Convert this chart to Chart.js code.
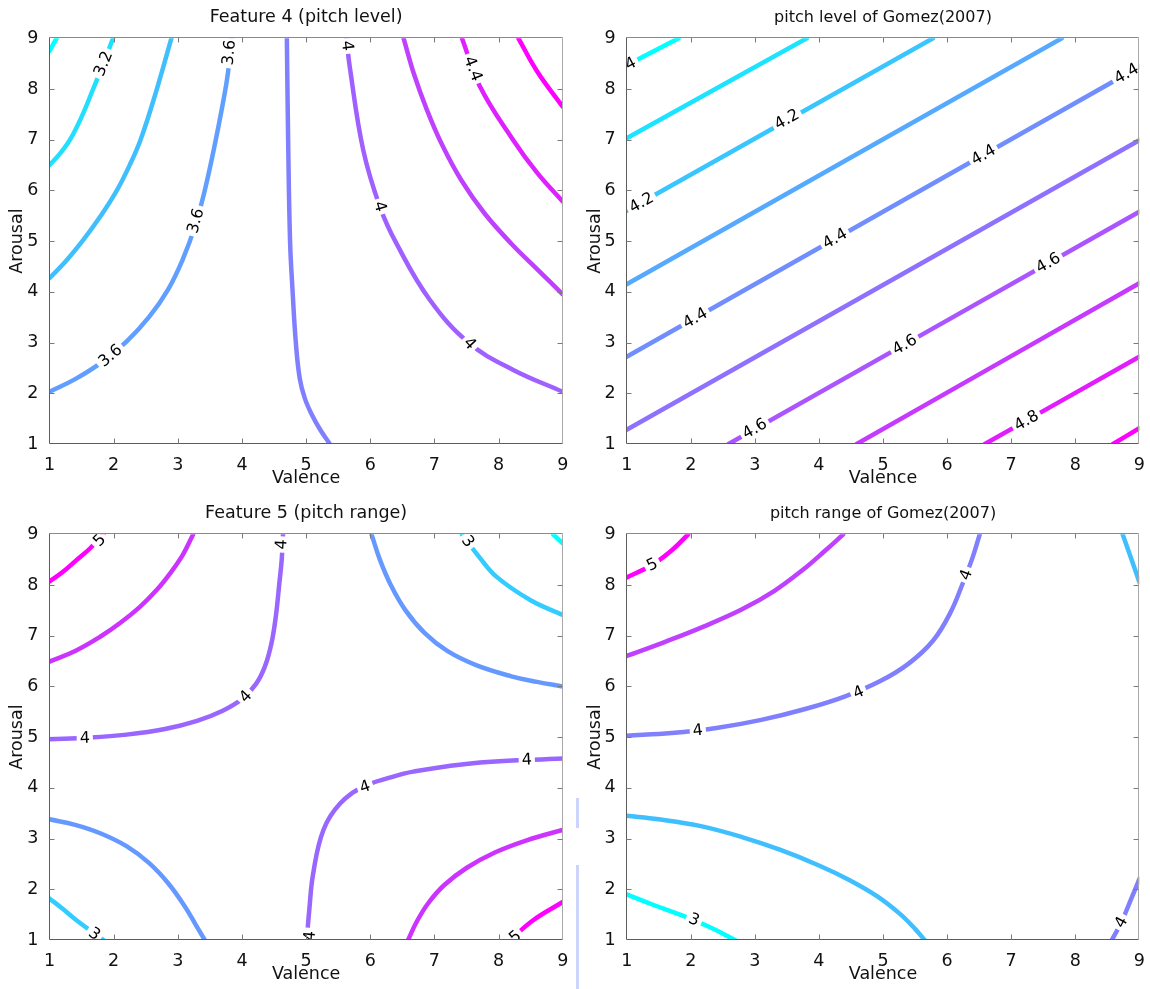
<!DOCTYPE html>
<html><head><meta charset="utf-8">
<script src="https://cdn.jsdelivr.net/npm/chart.js@4.4.1/dist/chart.umd.min.js"></script>
<style>
html,body{margin:0;padding:0;background:#fff;}
#wrap{position:relative;width:1150px;height:989px;overflow:hidden;background:#fff;}
.panel{position:absolute;width:575px;height:493px;}
.panel canvas{display:block;}
.art{position:absolute;left:576px;width:3px;background:#cdd4fb;}
</style></head><body>
<div id="wrap">
  <div class="panel" style="left:0;top:0"><canvas id="c1" width="575" height="493"></canvas></div>
  <div class="panel" style="left:575px;top:0"><canvas id="c2" width="575" height="493"></canvas></div>
  <div class="panel" style="left:0;top:496px"><canvas id="c3" width="575" height="493"></canvas></div>
  <div class="panel" style="left:575px;top:496px"><canvas id="c4" width="575" height="493"></canvas></div>
  <div class="art" style="top:798px;height:30px"></div>
  <div class="art" style="top:865px;height:124px"></div>
</div>
<script>
// ---------- axis ticks ----------
const valenceTicks = [1, 2, 3, 4, 5, 6, 7, 8, 9];
const arousalTicks = [1, 2, 3, 4, 5, 6, 7, 8, 9];
const xAxisTitle = 'Valence';
const yAxisTitle = 'Arousal';

// ---------- Feature 4 (pitch level) : [level, [[valence, arousal], ...]] ----------
const f4Title = 'Feature 4 (pitch level)';
const f4Lines = [
  [3.0, [[1, 8.75], [1.11, 9]]],
  [3.2, [[1, 6.5], [1.16, 6.72], [1.32, 7.0], [1.5, 7.45], [1.68, 8.0], [1.84, 8.5], [1.99, 9]]],
  [3.4, [[1, 4.27], [1.25, 4.6], [1.5, 4.98], [1.8, 5.5], [2.05, 6.0], [2.25, 6.5], [2.42, 7.0], [2.65, 7.9], [2.9, 9]]],
  [3.6, [[1, 2.03], [1.4, 2.28], [1.8, 2.6], [2.2, 3.02], [2.55, 3.5], [2.85, 4.05], [3.08, 4.65], [3.27, 5.3], [3.42, 6.0], [3.56, 6.8], [3.7, 7.7], [3.78, 8.3], [3.84, 9]]],
  [3.8, [[4.7, 9], [4.72, 7], [4.75, 5], [4.79, 4], [4.84, 3], [4.9, 2.3], [4.98, 1.9], [5.1, 1.55], [5.22, 1.28], [5.37, 1]]],
  [4.0, [[5.63, 9], [5.68, 8.44], [5.89, 6.8], [6.15, 5.68], [6.41, 4.95], [6.93, 3.84], [7.55, 2.98], [8.23, 2.46], [9, 2.03]]],
  [4.2, [[6.52, 9], [6.68, 8.3], [6.88, 7.6], [7.12, 6.9], [7.42, 6.2], [7.78, 5.55], [8.2, 4.95], [8.6, 4.45], [9, 3.95]]],
  [4.4, [[7.43, 9], [7.71, 8.05], [8.23, 6.99], [8.6, 6.35], [9, 5.78]]],
  [4.6, [[8.31, 9], [8.6, 8.35], [9, 7.65]]]
];
const f4Labels = [
  [1.84, 8.5, '3.2'], [3.8, 8.72, '3.6'], [3.28, 5.4, '3.6'], [1.95, 2.74, '3.6'],
  [5.64, 8.85, '4'], [6.15, 5.68, '4'], [7.55, 2.98, '4'], [7.6, 8.4, '4.4']
];

// ---------- pitch level of Gomez(2007) ----------
const glTitle = 'pitch level of Gomez(2007)';
const glLines = [
  [4.0, [[1, 8.47], [1.81, 9]]],
  [4.1, [[1, 7.03], [3.81, 9]]],
  [4.2, [[1, 5.6], [5.78, 9]]],
  [4.3, [[1, 4.15], [7.79, 9]]],
  [4.4, [[1, 2.72], [9, 8.44]]],
  [4.5, [[1, 1.28], [9, 6.99]]],
  [4.6, [[2.59, 1], [9, 5.58]]],
  [4.7, [[4.59, 1], [9, 4.17]]],
  [4.8, [[6.59, 1], [9, 2.72]]],
  [4.9, [[8.59, 1], [9, 1.31]]]
];
const glLabels = [
  [1.06, 8.5, '4'], [1.23, 5.76, '4.2'], [3.5, 7.4, '4.2'],
  [2.07, 3.48, '4.4'], [4.25, 5.05, '4.4'], [6.57, 6.7, '4.4'], [8.8, 8.3, '4.4'],
  [3.0, 1.3, '4.6'], [5.34, 2.96, '4.6'], [7.58, 4.57, '4.6'], [7.24, 1.46, '4.8']
];

// ---------- Feature 5 (pitch range) ----------
const f5Title = 'Feature 5 (pitch range)';
const f5Lines = [
  [2.5, [[8.85, 9], [9, 8.82]]],
  [3.0, [[7.43, 9], [7.7, 8.55], [7.97, 8.16], [8.5, 7.7], [9, 7.41]]],
  [3.5, [[6.02, 9], [6.15, 8.5], [6.32, 8.0], [6.55, 7.5], [6.85, 7.05], [7.2, 6.7], [7.65, 6.42], [8.2, 6.2], [8.6, 6.09], [9, 6.0]]],
  [4.0, [[1, 4.96], [1.6, 4.99], [2.2, 5.05], [2.8, 5.16], [3.3, 5.32], [3.7, 5.52], [4.0, 5.75], [4.22, 6.05], [4.36, 6.4], [4.46, 6.85], [4.53, 7.4], [4.58, 8.0], [4.62, 8.5], [4.64, 9]]],
  [4.5, [[1, 6.49], [1.4, 6.7], [1.79, 6.98], [2.1, 7.25], [2.41, 7.57], [2.67, 7.9], [2.88, 8.23], [3.08, 8.6], [3.24, 9]]],
  [5.0, [[1, 8.07], [1.2, 8.25], [1.42, 8.49], [1.63, 8.72], [1.84, 9]]],
  [3.5, [[1, 3.38], [1.4, 3.27], [1.8, 3.1], [2.2, 2.85], [2.55, 2.52], [2.85, 2.12], [3.1, 1.68], [3.28, 1.3], [3.42, 1.0]]],
  [3.0, [[1, 1.82], [1.2, 1.62], [1.42, 1.39], [1.84, 1.0]]],
  [4.0, [[5.01, 1], [5.05, 1.6], [5.11, 2.31], [5.27, 3.17], [5.53, 3.69], [5.89, 4.02], [6.3, 4.2], [6.67, 4.32], [7.71, 4.5], [9, 4.58]]],
  [4.5, [[6.59, 1], [6.72, 1.35], [6.9, 1.72], [7.15, 2.08], [7.5, 2.42], [7.95, 2.73], [8.45, 2.97], [9, 3.17]]],
  [5.0, [[8.18, 1], [8.54, 1.39], [9, 1.75]]]
];
const f5Labels = [
  [1.78, 8.88, '5'], [4.62, 8.8, '4'], [4.06, 5.8, '4'], [1.55, 4.98, '4'], [7.52, 8.86, '3'],
  [1.7, 1.12, '3'], [5.06, 1.08, '4'], [5.92, 4.02, '4'], [8.44, 4.55, '4'], [8.26, 1.06, '5']
];

// ---------- pitch range of Gomez(2007) ----------
const grTitle = 'pitch range of Gomez(2007)';
const grLines = [
  [3.0, [[1, 1.9], [1.4, 1.7], [1.83, 1.5], [2.3, 1.25], [2.69, 1]]],
  [3.5, [[1, 3.45], [1.5, 3.38], [2.14, 3.25], [2.8, 3.03], [3.39, 2.78], [4.0, 2.47], [4.48, 2.18], [4.9, 1.87], [5.26, 1.52], [5.5, 1.22], [5.65, 1.0]]],
  [3.5, [[8.74, 9], [8.88, 8.5], [9, 8.06]]],
  [4.0, [[1, 5.03], [1.7, 5.08], [2.4, 5.18], [3.1, 5.34], [3.8, 5.56], [4.4, 5.8], [4.95, 6.1], [5.4, 6.45], [5.78, 6.9], [6.05, 7.45], [6.25, 8.05], [6.4, 8.55], [6.51, 9]]],
  [4.0, [[8.57, 1], [8.72, 1.35], [8.87, 1.8], [9, 2.2]]],
  [4.5, [[1, 6.6], [1.6, 6.88], [2.2, 7.18], [2.8, 7.52], [3.3, 7.88], [3.75, 8.3], [4.1, 8.68], [4.38, 9]]],
  [5.0, [[1, 8.15], [1.4, 8.4], [1.7, 8.68], [1.96, 9]]]
];
const grLabels = [
  [1.4, 8.4, '5'], [2.11, 5.13, '4'], [4.62, 5.88, '4'], [6.3, 8.2, '4'], [2.05, 1.4, '3'], [8.72, 1.35, '4']
];

// ---------- rendering ----------
const FONT = "'DejaVu Sans', 'Liberation Sans', Arial, sans-serif";

function coolColor(t) {
  const r = Math.round(255 * t), g = Math.round(255 * (1 - t));
  return 'rgb(' + r + ',' + g + ',255)';
}

const framePlugin = {
  id: 'frame',
  afterDraw(chart) {
    const {ctx, chartArea: a, scales: {x, y}} = chart;
    const L = Math.round(a.left) - 0.5, R = Math.round(a.right) - 0.5;
    const T = Math.round(a.top) - 0.5, B = Math.round(a.bottom) - 0.5;
    ctx.save();
    ctx.lineWidth = 1;
    ctx.strokeStyle = '#8a8a8a';
    ctx.beginPath(); ctx.moveTo(L, T); ctx.lineTo(R, T); ctx.stroke();
    ctx.strokeStyle = '#a9a9a9';
    ctx.beginPath(); ctx.moveTo(R, T); ctx.lineTo(R, B); ctx.stroke();
    ctx.strokeStyle = '#5c5c5c';
    ctx.beginPath(); ctx.moveTo(L, T); ctx.lineTo(L, B); ctx.lineTo(R, B); ctx.stroke();
    ctx.strokeStyle = '#7a7a7a';
    const tl = 5;
    x.ticks.forEach(t => {
      if (t.value === x.min || t.value === x.max) return;
      const p = Math.round(x.getPixelForValue(t.value)) + 0.5;
      ctx.beginPath(); ctx.moveTo(p, B); ctx.lineTo(p, B - tl); ctx.moveTo(p, T); ctx.lineTo(p, T + tl); ctx.stroke();
    });
    y.ticks.forEach(t => {
      if (t.value === y.min || t.value === y.max) return;
      const p = Math.round(y.getPixelForValue(t.value)) + 0.5;
      ctx.beginPath(); ctx.moveTo(L, p); ctx.lineTo(L + tl, p); ctx.moveTo(R, p); ctx.lineTo(R - tl, p); ctx.stroke();
    });
    ctx.restore();
  }
};

const labelPlugin = {
  id: 'contourLabels',
  afterDatasetsDraw(chart, args, opts) {
    const {ctx, chartArea: a, scales: {x, y}} = chart;
    ctx.save();
    ctx.beginPath(); ctx.rect(a.left, a.top, a.right - a.left, a.bottom - a.top); ctx.clip();
    ctx.font = opts.size + 'px ' + FONT;
    ctx.textAlign = 'center'; ctx.textBaseline = 'middle';
    (opts.labels || []).forEach(([vx, vy, text]) => {
      const px = x.getPixelForValue(vx), py = y.getPixelForValue(vy);
      let best = Infinity, ang = 0;
      chart.data.datasets.forEach(ds => {
        const pts = ds.data.map(d => [x.getPixelForValue(d.x), y.getPixelForValue(d.y)]);
        for (let i = 0; i < pts.length - 1; i++) {
          const [x1, y1] = pts[i], [x2, y2] = pts[i + 1];
          const dx = x2 - x1, dy = y2 - y1, LL = dx * dx + dy * dy;
          let t = LL ? ((px - x1) * dx + (py - y1) * dy) / LL : 0;
          t = Math.max(0, Math.min(1, t));
          const qx = x1 + t * dx - px, qy = y1 + t * dy - py, d = qx * qx + qy * qy;
          if (d < best) { best = d; ang = Math.atan2(dy, dx); }
        }
      });
      if (ang > Math.PI / 2) ang -= Math.PI;
      if (ang < -Math.PI / 2) ang += Math.PI;
      const w = ctx.measureText(text).width;
      ctx.save();
      ctx.translate(px, py); ctx.rotate(ang);
      ctx.fillStyle = '#fff'; ctx.fillRect(-w / 2 - 3, -7.5, w + 6, 15);
      ctx.fillStyle = '#000'; ctx.fillText(text, 0, 0.5);
      ctx.restore();
    });
    ctx.restore();
  }
};

function makePanel(id, title, titleSize, lines, labels, yBox, padRight, yTitlePad) {
  const lv = lines.map(l => l[0]);
  const lo = Math.min(...lv), hi = Math.max(...lv);
  const datasets = lines.map(([level, pts]) => ({
    label: String(level),
    data: pts.map(p => ({x: p[0], y: p[1]})),
    showLine: true, pointRadius: 0, pointHoverRadius: 0, pointHitRadius: 0,
    borderColor: coolColor((level - lo) / (hi - lo)),
    borderWidth: 4.5, tension: 0.4, clip: 0,
    borderCapStyle: 'round', borderJoinStyle: 'round', fill: false
  }));
  const tickFont = {family: FONT, size: 17.5};
  const axisTitleFont = {family: FONT, size: 17.5};
  return new Chart(document.getElementById(id), {
    type: 'scatter',
    data: {datasets},
    options: {
      responsive: false, animation: false, devicePixelRatio: 1, events: [],
      layout: {padding: {left: 0, right: padRight, top: 0, bottom: 4}},
      plugins: {
        legend: {display: false}, tooltip: {enabled: false},
        title: {display: true, text: title, fullSize: false, color: '#111',
          font: {family: FONT, size: titleSize, weight: 'normal', lineHeight: 1},
          padding: {top: 17.5 - titleSize / 2, bottom: 38.3 - (17.5 - titleSize / 2) - titleSize}},
        contourLabels: {labels, size: 16}
      },
      scales: {
        x: {
          type: 'linear', position: 'bottom', min: 1, max: 9,
          afterBuildTicks: s => { s.ticks = valenceTicks.map(v => ({value: v})); },
          afterFit: s => { s.height = 45; },
          ticks: {font: tickFont, color: '#111', padding: 3, maxRotation: 0, autoSkip: false},
          grid: {display: false}, border: {display: false},
          title: {display: true, text: xAxisTitle, font: axisTitleFont, color: '#111', padding: {top: 0, bottom: 0}}
        },
        y: {
          type: 'linear', position: 'left', min: 1, max: 9,
          afterBuildTicks: s => { s.ticks = arousalTicks.map(v => ({value: v})); },
          afterFit: s => { s.width = yBox; },
          ticks: {font: tickFont, color: '#111', padding: 3, autoSkip: false},
          grid: {display: false}, border: {display: false},
          title: {display: true, text: yAxisTitle, font: axisTitleFont, color: '#111', padding: {top: yTitlePad, bottom: 0}}
        }
      }
    },
    plugins: [labelPlugin, framePlugin]
  });
}

makePanel('c1', f4Title, 17.5, f4Lines, f4Labels, 49.5, 12.3, 7);
makePanel('c2', glTitle, 16, glLines, glLabels, 51.7, 10.7, 10);
makePanel('c3', f5Title, 17.5, f5Lines, f5Labels, 49.5, 12.3, 7);
makePanel('c4', grTitle, 16, grLines, grLabels, 51.7, 10.7, 10);
</script>
</body></html>
